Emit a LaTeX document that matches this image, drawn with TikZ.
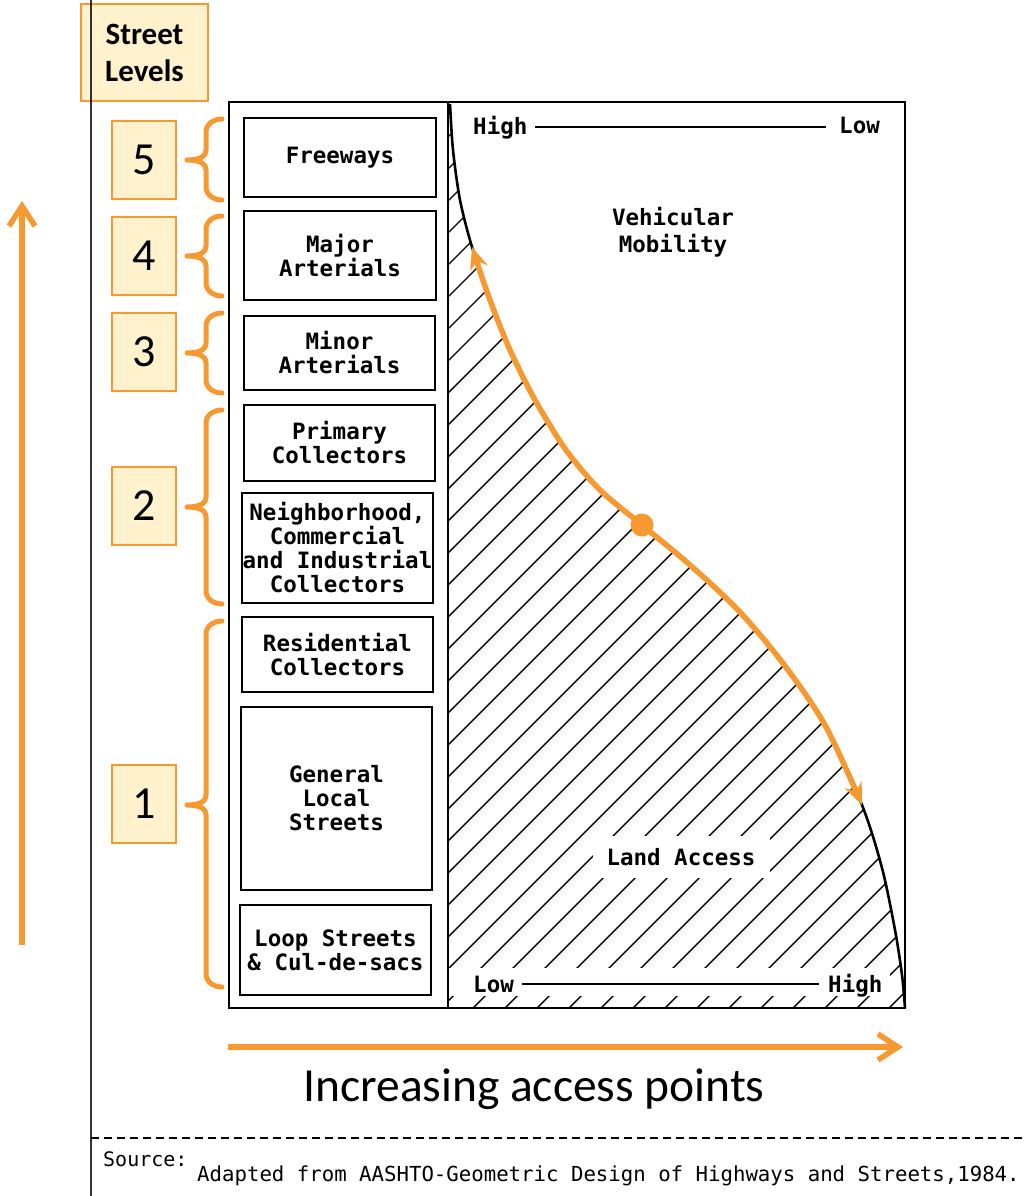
\documentclass[tikz,border=0pt]{standalone}
\usepackage{fontspec}
\setmainfont{Carlito}
\newfontfamily\plotter{DejaVu Sans Mono}
\usetikzlibrary{arrows.meta}
\definecolor{orng}{RGB}{247,152,48}
\definecolor{cream}{RGB}{255,242,204}
\newcommand\obrace[3]{%
  \draw[brace] (222,#1) to[out=180,in=90] (206,#1+13) -- (206,#3-10)
     to[out=-90,in=0] (187,#3) to[out=0,in=90] (206,#3+10)
     -- (206,#2-13) to[out=-90,in=180] (222,#2);}
\begin{document}
\begin{tikzpicture}[x=1pt,y=-1pt,
  lbl/.style={font=\plotter\bfseries\fontsize{22.5}{24}\selectfont, align=center, inner sep=0pt},
  rowbox/.style={draw=black, line width=2pt, lbl, inner sep=0pt},
  numbox/.style={draw=orng, fill=cream, line width=1.5pt, minimum width=64pt,
     minimum height=78pt, inner sep=0pt, font=\fontsize{46}{46}\selectfont},
  brace/.style={draw=orng, line width=5pt, line cap=round, line join=round},
  hatch/.style={line width=1.4pt},
  frameline/.style={line width=2.6pt},
  oarrow/.style={draw=orng, line width=5.5pt},
  srcfont/.style={font=\plotter\fontsize{20.7}{22}\selectfont, inner sep=0pt}]
\useasboundingbox (0,0) rectangle (1027,1196);
\fill[white] (0,0) rectangle (1027,1196);

% Street Levels title box
\node[draw=orng, fill=cream, line width=1.5pt, minimum width=127pt, minimum height=97pt,
  align=center, inner sep=0pt, font=\bfseries\fontsize{31}{37}\selectfont] (title) at (144.5,52.5) {Street\\Levels};
% left vertical rule
\draw[line width=2pt, black, opacity=0.8] (91,0) -- (91,1196);

% hatched region
\begin{scope}
  \clip (448,1008) -- (448,104) -- plot[smooth] coordinates {(450,104) (453,150) (460,200) (472,247) (490,300) (510,350) (535,400) (566,450) (600,490) (642,525) (690,565) (738,610) (782,662) (825,725) (862,805) (882,868) (895,930) (902,975) (905,1008)} -- cycle;
  \foreach \k in {-10,...,35} {
    \pgfmathsetmacro\cc{841+32*\k}
    \draw[hatch] (440,\cc-440) -- (910,\cc-910);
  }
\end{scope}
\fill[white] (449,968) rectangle (890,996);

% main frame
\draw[frameline] (229,102) rectangle (905,1008);
\draw[frameline] (448,102) -- (448,1008);
% black curve
\draw[line width=2.6pt] plot[smooth] coordinates {(450,104) (453,150) (460,200) (472,247) (490,300) (510,350) (535,400) (566,450) (600,490) (642,525) (690,565) (738,610) (782,662) (825,725) (862,805) (882,868) (895,930) (902,975) (905,1008)};

% row boxes
\node[rowbox, minimum width=192pt, minimum height=79pt] (fw) at (340,157.5) {Freeways};
\node[rowbox, minimum width=192pt, minimum height=89pt] (maj) at (340,255.5) {Major\\Arterials};
\node[rowbox, minimum width=191pt, minimum height=74pt] (min) at (339.5,353) {Minor\\Arterials};
\node[rowbox, minimum width=191pt, minimum height=76pt] (pc) at (339.5,443) {Primary\\Collectors};
\node[rowbox, minimum width=191pt, minimum height=110pt] (nc) at (337.5,548) {Neighborhood,\\Commercial\\and Industrial\\Collectors};
\node[rowbox, minimum width=191pt, minimum height=75pt] (rc) at (337.5,654.5) {Residential\\Collectors};
\node[rowbox, minimum width=191pt, minimum height=183pt] (gl) at (336.5,798.5) {General\\Local\\Streets};
\node[rowbox, minimum width=191pt, minimum height=90pt] (lp) at (335.5,950) {Loop Streets\\\& Cul-de-sacs};

% level number boxes
\node[numbox] (n5) at (144,160) {5};
\node[numbox] (n4) at (144,256) {4};
\node[numbox] (n3) at (144,352) {3};
\node[numbox] (n2) at (144,506) {2};
\node[numbox] (n1) at (144,804) {1};

% braces
\obrace{119}{200}{160}
\obrace{216}{296}{256}
\obrace{313}{393}{353}
\obrace{410}{604}{507}
\obrace{621}{987}{805}

% chart labels
\node[lbl, anchor=base west] (hiT) at (473,135) {High};
\node[lbl, anchor=base west] (loT) at (839,134) {Low};
\coordinate (tl) at (535,127);
\coordinate (tr) at (826,127);
\draw[line width=2.4pt] (tl) -- (tr);
\node[lbl, font=\plotter\bfseries\fontsize{22.5}{27}\selectfont] (veh) at (673,232) {Vehicular\\Mobility};
\node[lbl, fill=white, inner xsep=14pt, inner ysep=12pt] (land) at (681,857) {Land Access};
\node[lbl, anchor=base west] (loB) at (473,992) {Low};
\coordinate (bl) at (522,984);
\coordinate (br) at (819,984);
\draw[line width=2.4pt] (bl) -- (br);
\node[lbl, anchor=base west] (hiB) at (828,992) {High};

% orange curve with arrows
\draw[orng, line width=5.5pt, {Stealth[length=22pt,width=18pt]}-{Stealth[length=22pt,width=18pt]}]
  plot[smooth] coordinates {(472,247) (490,300) (510,350) (535,400) (566,450) (600,490) (642,525) (690,565) (738,610) (782,662) (825,725) (862,805)};
\node[circle, fill=orng, minimum size=23pt, inner sep=0pt] (dot) at (642,525) {};

% axis arrows
\coordinate (va) at (22,945);
\coordinate (vb) at (22,201);
\draw[oarrow, -{Straight Barb[length=20pt,width=26pt]}] (va) -- (vb);
\coordinate (ha) at (228,1047);
\coordinate (hb) at (903,1047);
\draw[oarrow, -{Straight Barb[length=20pt,width=26pt]}] (ha) -- (hb);
\node[anchor=base, font=\fontsize{47.5}{52}\selectfont, inner sep=0pt] (inc) at (534,1101) {Increasing access points};

% source
\draw[line width=2pt, dash pattern=on 8pt off 5pt] (91,1138) -- (1027,1138);
\node[srcfont, font=\plotter\fontsize{20}{22}\selectfont, anchor=base west] (src) at (103,1166) {Source:};
\node[srcfont, anchor=base west] (adp) at (197,1181) {Adapted from AASHTO-Geometric Design of Highways and Streets,1984.};
\end{tikzpicture}
\end{document}
